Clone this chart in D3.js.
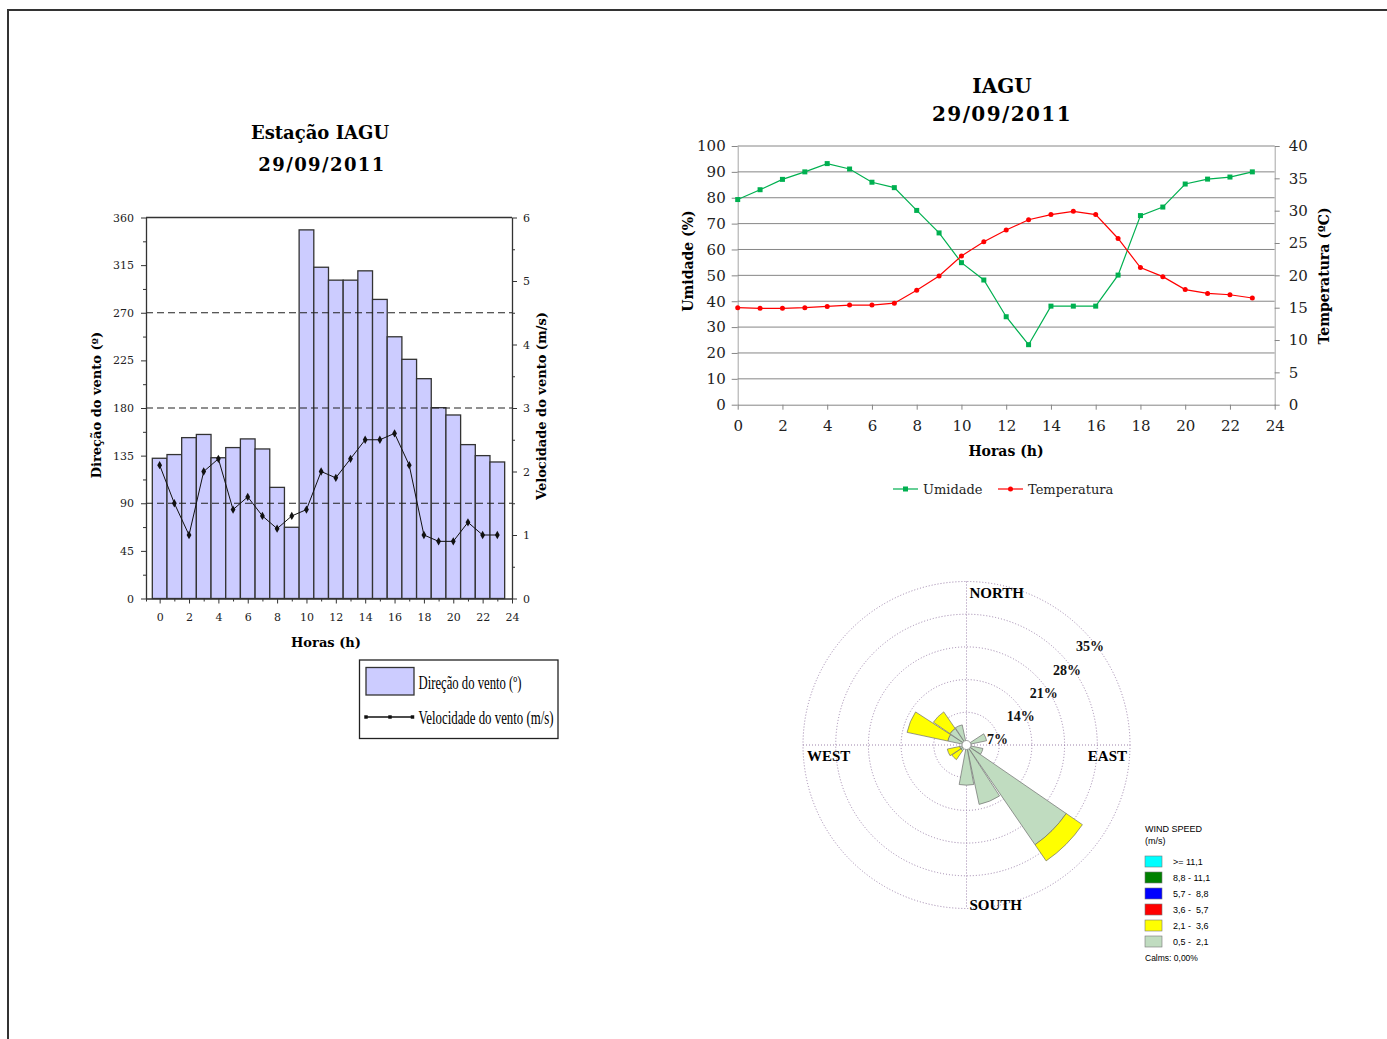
<!DOCTYPE html>
<html>
<head>
<meta charset="utf-8">
<script src="https://cdn.jsdelivr.net/npm/d3@7"></script>
<style>
  body { margin: 0; background: #fff; }
  svg { display: block; }
</style>
</head>
<body>
<svg class="page" width="1387" height="1039"></svg>
<script>
// ---- data ----
let hours = d3.range(0, 24);
let windDir = [132.5, 136, 152, 155, 133, 142.6, 150.8, 141.3, 105, 67.3, 348.3, 313,
               300.8, 300.8, 309.6, 282.6, 247.3, 226, 207.7, 180.3, 173.4, 145.4, 135, 129];
let windSpeed = [2.1, 1.5, 1.0, 2.0, 2.2, 1.4, 1.6, 1.3, 1.1, 1.3, 1.4, 2.0,
                 1.9, 2.2, 2.5, 2.5, 2.6, 2.1, 1.0, 0.9, 0.9, 1.2, 1.0, 1.0];
let humidity = [79.3, 83.1, 87.1, 90, 93.2, 91.1, 86, 83.9, 75.1, 66.4, 54.9, 48.2,
                34, 23.2, 38.1, 38.1, 38.1, 50.1, 73.1, 76.4, 85.3, 87.2, 88, 90];
let temperature = [15.0, 14.9, 14.9, 15.0, 15.2, 15.4, 15.4, 15.7, 17.7, 19.9, 23.0, 25.2,
                   27.0, 28.6, 29.4, 29.9, 29.4, 25.7, 21.2, 19.8, 17.8, 17.2, 17.0, 16.5];

let dirTicks = d3.range(0, 361, 45);
let speedTicks = d3.range(0, 7, 1);
let hourTicks = d3.range(0, 25, 2);
let humTicks = d3.range(0, 101, 10);
let tempTicks = d3.range(0, 41, 5);

// wind rose, % of time per sector (16 sectors, N clockwise)
let roseDirs = ["N", "NNE", "NE", "ENE", "E", "ESE", "SE", "SSE", "S", "SSW", "SW", "WSW", "W", "WNW", "NW", "NNW"];
let roseLow = [0, 0, 0, 4.4, 0, 3.6, 25.9, 13.0, 8.6, 0, 1.5, 1.5, 0, 4.1, 4.3, 4.4];   // 0,5 - 2,1
let roseMid = [0, 0, 0, 0, 0, 0, 4.2, 0, 0, 0, 2.3, 2.7, 0, 8.9, 4.3, 0];            // 2,1 - 3,6
let roseRings = [7, 14, 21, 28, 35];
let speedClasses = [">= 11,1", "8,8 - 11,1", "5,7 -  8,8", "3,6 -  5,7", "2,1 -  3,6", "0,5 -  2,1"];

let svg = d3.select("svg.page");

// page frame
svg.append("path").attr("d", "M8,1039V10H1387")
  .attr("fill", "none").attr("stroke", "#333").attr("stroke-width", 2);

// =================== left: wind direction / speed ===================
let serif = "'DejaVu Serif', serif";
let barX = d3.scaleLinear().domain([-0.93, 24]).range([146, 512]);
let dirY = d3.scaleLinear().domain([0, 360]).range([598.5, 217.5]);
let spdY = d3.scaleLinear().domain([0, 6]).range([598.5, 217.5]);

let left = svg.append("g").attr("id", "windplot");

left.append("text").attr("x", 320).attr("y", 139).attr("text-anchor", "middle")
  .style("font", "bold 18px " + serif).text("Estação IAGU");
left.append("text").attr("x", 322).attr("y", 171).attr("text-anchor", "middle")
  .style("font", "bold 18px " + serif).style("letter-spacing", "1.4px").text("29/09/2011");

// bars
left.selectAll("rect.bar").data(hours).join("rect").attr("class", "bar")
  .attr("x", h => barX(h - 0.5))
  .attr("width", h => barX(h + 0.5) - barX(h - 0.5))
  .attr("y", h => dirY(windDir[h]))
  .attr("height", h => dirY(0) - dirY(windDir[h]))
  .attr("fill", "#ccccff").attr("stroke", "#333").attr("stroke-width", 1.3);

// dashed reference lines
left.selectAll("line.ref").data([90, 180, 270]).join("line").attr("class", "ref")
  .attr("x1", barX.range()[0]).attr("x2", barX.range()[1])
  .attr("y1", d => dirY(d)).attr("y2", d => dirY(d))
  .attr("stroke", "#222").attr("stroke-width", 1.2).attr("stroke-dasharray", "7,4");

// frame top
left.append("line").attr("x1", barX.range()[0]).attr("x2", barX.range()[1])
  .attr("y1", dirY(360)).attr("y2", dirY(360)).attr("stroke", "#333").attr("stroke-width", 1.3);

function styleAxis(g, size) {
  g.select(".domain").attr("stroke", "#333").attr("stroke-width", 1.3);
  g.selectAll(".tick line").attr("stroke", "#333");
  g.selectAll(".tick text").style("font", size + "px " + serif).attr("fill", "#222");
}

let yLeft = left.append("g").attr("transform", translate(barX.range()[0], 0))
  .call(d3.axisLeft(dirY).tickValues(dirTicks).tickSize(5).tickSizeOuter(0).tickPadding(7));
styleAxis(yLeft, 11);
left.append("g").attr("transform", translate(barX.range()[0], 0))
  .call(d3.axisLeft(dirY).tickValues(dirTicks.slice(0, -1).map(d => d + 22.5)).tickSize(3).tickFormat(""))
  .call(g => g.select(".domain").remove()).call(g => g.selectAll("line").attr("stroke", "#333"));

let yRight = left.append("g").attr("transform", translate(barX.range()[1], 0))
  .call(d3.axisRight(spdY).tickValues(speedTicks).tickFormat(d3.format("d")).tickSize(5).tickSizeOuter(0).tickPadding(6));
styleAxis(yRight, 11);
left.append("g").attr("transform", translate(barX.range()[1], 0))
  .call(d3.axisRight(spdY).tickValues(speedTicks.slice(0, -1).map(d => d + 0.5)).tickSize(3).tickFormat(""))
  .call(g => g.select(".domain").remove()).call(g => g.selectAll("line").attr("stroke", "#333"));

let xBottom = left.append("g").attr("transform", translate(0, dirY(0)))
  .call(d3.axisBottom(barX).tickValues(hourTicks).tickSize(5).tickSizeOuter(0).tickPadding(10));
styleAxis(xBottom, 11);
left.append("g").attr("transform", translate(0, dirY(0)))
  .call(d3.axisBottom(barX).tickValues(d3.range(-1, 24, 2).map(d => Math.max(d, -0.93))).tickSize(3).tickFormat(""))
  .call(g => g.select(".domain").remove()).call(g => g.selectAll("line").attr("stroke", "#333"));

// speed line
let speedLine = d3.line().x(h => barX(h)).y(h => spdY(windSpeed[h]));
left.append("path").datum(hours).attr("d", speedLine)
  .attr("fill", "none").attr("stroke", "#111").attr("stroke-width", 1);
left.selectAll("path.dia").data(hours).join("path").attr("class", "dia")
  .attr("d", d3.symbol(d3.symbolDiamond, 20))
  .attr("transform", h => translate(barX(h), spdY(windSpeed[h])))
  .attr("fill", "#111");

// axis titles
left.append("text").attr("transform", translate(101, 405) + " rotate(-90)")
  .attr("text-anchor", "middle").style("font", "bold 13px " + serif).text("Direção do vento (º)");
left.append("text").attr("transform", translate(546, 406) + " rotate(-90)")
  .attr("text-anchor", "middle").style("font", "bold 13px " + serif).text("Velocidade do vento (m/s)");
left.append("text").attr("x", 326).attr("y", 647).attr("text-anchor", "middle")
  .style("font", "bold 13px " + serif).text("Horas (h)");

// legend
let leg = left.append("g").attr("transform", translate(359.5, 660));
leg.append("rect").attr("width", 198.5).attr("height", 78.5)
  .attr("fill", "#fff").attr("stroke", "#222").attr("stroke-width", 1.3);
leg.append("rect").attr("x", 6.5).attr("y", 7.5).attr("width", 48).attr("height", 27.5)
  .attr("fill", "#ccccff").attr("stroke", "#333").attr("stroke-width", 1.3);
leg.append("line").attr("x1", 6.5).attr("x2", 54).attr("y1", 57).attr("y2", 57)
  .attr("stroke", "#111").attr("stroke-width", 1.3);
leg.selectAll("path.dia").data([6.5, 30.5, 53]).join("path").attr("class", "dia")
  .attr("d", d3.symbol(d3.symbolSquare, 12)).attr("transform", d => translate(d, 57)).attr("fill", "#111");
leg.append("text").attr("x", 59).attr("y", 29).attr("textLength", 103).attr("lengthAdjust", "spacingAndGlyphs")
  .style("font", "18px 'Liberation Serif', serif").text("Direção do vento (º)");
leg.append("text").attr("x", 59).attr("y", 64).attr("textLength", 135).attr("lengthAdjust", "spacingAndGlyphs")
  .style("font", "18px 'Liberation Serif', serif").text("Velocidade do vento (m/s)");

// =================== right: humidity / temperature ===================
let lineX = d3.scaleLinear().domain([0, 24]).range([737.7, 1274.7]);
let humY = d3.scaleLinear().domain([0, 100]).range([404.7, 146]);
let tempY = d3.scaleLinear().domain([0, 40]).range([404.7, 146]);
let green = "#00b050", red = "#ff0000";

let right = svg.append("g").attr("id", "lineplot");
right.append("text").attr("x", 1002).attr("y", 93).attr("text-anchor", "middle")
  .style("font", "bold 20px " + serif).text("IAGU");
right.append("text").attr("x", 1002).attr("y", 121).attr("text-anchor", "middle")
  .style("font", "bold 20px " + serif).style("letter-spacing", "1.4px").text("29/09/2011");

// gridlines + left ticks
right.append("g").attr("transform", translate(lineX(0), 0))
  .call(d3.axisLeft(humY).tickValues(humTicks).tickSize(6).tickSizeOuter(0).tickPadding(6))
  .call(g => g.select(".domain").attr("stroke", "#a6a6a6"))
  .call(g => g.selectAll(".tick line").attr("stroke", "#868686"))
  .call(g => g.selectAll(".tick text").style("font", "15px " + serif).attr("fill", "#222"));
right.selectAll("line.grid").data(humTicks.slice(1)).join("line").attr("class", "grid")
  .attr("x1", lineX(0)).attr("x2", lineX(24)).attr("y1", d => humY(d)).attr("y2", d => humY(d))
  .attr("stroke", "#868686").attr("stroke-width", 1);

right.append("g").attr("transform", translate(lineX(24), 0))
  .call(d3.axisRight(tempY).tickValues(tempTicks).tickSize(5).tickSizeOuter(0).tickPadding(9))
  .call(g => g.select(".domain").attr("stroke", "#a6a6a6"))
  .call(g => g.selectAll(".tick line").attr("stroke", "#868686"))
  .call(g => g.selectAll(".tick text").style("font", "15px " + serif).attr("fill", "#222"));

right.append("g").attr("transform", translate(0, humY(0)))
  .call(d3.axisBottom(lineX).tickValues(hourTicks).tickSize(5).tickSizeOuter(0).tickPadding(11))
  .call(g => g.select(".domain").attr("stroke", "#868686"))
  .call(g => g.selectAll(".tick line").attr("stroke", "#868686"))
  .call(g => g.selectAll(".tick text").style("font", "15px " + serif).attr("fill", "#222"));

let humLine = d3.line().x(h => lineX(h)).y(h => humY(humidity[h]));
let tempLine = d3.line().x(h => lineX(h)).y(h => tempY(temperature[h]));
right.append("path").datum(hours).attr("d", humLine)
  .attr("fill", "none").attr("stroke", green).attr("stroke-width", 1.2);
right.append("path").datum(hours).attr("d", tempLine)
  .attr("fill", "none").attr("stroke", red).attr("stroke-width", 1.2);
right.selectAll("rect.hum").data(hours).join("rect").attr("class", "hum")
  .attr("x", h => lineX(h) - 2.5).attr("y", h => humY(humidity[h]) - 2.5)
  .attr("width", 5).attr("height", 5).attr("fill", green);
right.selectAll("circle.temp").data(hours).join("circle").attr("class", "temp")
  .attr("cx", h => lineX(h)).attr("cy", h => tempY(temperature[h])).attr("r", 2.5).attr("fill", red);

right.append("text").attr("transform", translate(693, 261) + " rotate(-90)")
  .attr("text-anchor", "middle").style("font", "bold 14px " + serif).text("Umidade (%)");
right.append("text").attr("transform", translate(1329, 276) + " rotate(-90)")
  .attr("text-anchor", "middle").style("font", "bold 14px " + serif).text("Temperatura (ºC)");
right.append("text").attr("x", 1006).attr("y", 456).attr("text-anchor", "middle")
  .style("font", "bold 14px " + serif).text("Horas (h)");

// line legend
let lineLeg = right.append("g").attr("transform", translate(893, 489));
[["Umidade", green, "sq"], ["Temperatura", red, "ci"]].forEach(([name, col, mk], i) => {
  let g = lineLeg.append("g").attr("transform", translate(i * 105, 0));
  g.append("line").attr("x1", 0).attr("x2", 25).attr("stroke", col).attr("stroke-width", 1.2);
  if (mk === "sq") g.append("rect").attr("x", 10).attr("y", -2.5).attr("width", 5).attr("height", 5).attr("fill", col);
  else g.append("circle").attr("cx", 12.5).attr("r", 2.5).attr("fill", col);
  g.append("text").attr("x", 30).attr("y", 5).style("font", "13px " + serif).attr("fill", "#222").text(name);
});

// =================== wind rose ===================
let roseR = d3.scaleLinear().domain([0, 35]).range([0, 163.5]);
let rose = svg.append("g").attr("id", "rose").attr("transform", translate(966.5, 745));
let ringCol = "#9c82aa";
rose.selectAll("circle.ring").data(roseRings).join("circle").attr("class", "ring")
  .attr("r", d => roseR(d)).attr("fill", "none")
  .attr("stroke", ringCol).attr("stroke-width", 1).attr("stroke-dasharray", "1,2");
rose.selectAll("line.axis").data([0, 90]).join("line").attr("class", "axis")
  .attr("x1", d => d ? -roseR(35) : 0).attr("x2", d => d ? roseR(35) : 0)
  .attr("y1", d => d ? 0 : -roseR(35)).attr("y2", d => d ? 0 : roseR(35))
  .attr("stroke", ringCol).attr("stroke-width", 1).attr("stroke-dasharray", "1,2");

let half = 10.5 * Math.PI / 180;
let arc = d3.arc();
let petals = roseDirs.map((d, i) => ({ dir: d, a: i * 22.5 * Math.PI / 180, low: roseLow[i], mid: roseMid[i] }));
rose.selectAll("path.low").data(petals.filter(p => p.low > 0)).join("path").attr("class", "low")
  .attr("d", p => arc({ innerRadius: 0, outerRadius: roseR(p.low), startAngle: p.a - half, endAngle: p.a + half }))
  .attr("fill", "#c0dcc0").attr("stroke", "#6f6f6f").attr("stroke-width", 0.7);
rose.selectAll("path.mid").data(petals.filter(p => p.mid > 0)).join("path").attr("class", "mid")
  .attr("d", p => arc({ innerRadius: roseR(p.low), outerRadius: roseR(p.low + p.mid), startAngle: p.a - half, endAngle: p.a + half }))
  .attr("fill", "#ffff00").attr("stroke", "#6f6f6f").attr("stroke-width", 0.7);
rose.append("circle").attr("r", 4.5).attr("fill", "#fff").attr("stroke", "#888").attr("stroke-width", 0.8);

let rFont = "bold 14px 'Liberation Serif', serif";
rose.selectAll("text.pct").data(roseRings).join("text").attr("class", "pct")
  .attr("x", d => roseR(d) * Math.SQRT1_2 + 8).attr("y", d => -roseR(d) * Math.SQRT1_2 + 22)
  .attr("text-anchor", "middle").style("font", rFont).attr("fill", "#111").text(d => d + "%");
let cFont = "bold 15px 'Liberation Serif', serif";
rose.append("text").attr("x", 3).attr("y", -roseR(35) + 16).style("font", cFont).text("NORTH");
rose.append("text").attr("x", 3).attr("y", roseR(35) + 1).style("font", cFont).text("SOUTH");
rose.append("text").attr("x", -roseR(35) + 4).attr("y", 16).style("font", cFont).text("WEST");
rose.append("text").attr("x", roseR(35) - 3).attr("y", 16).attr("text-anchor", "end").style("font", cFont).text("EAST");

// wind speed legend
let speedColor = d3.scaleOrdinal().domain(speedClasses)
  .range(["#00ffff", "#008000", "#0000ff", "#ff0000", "#ffff00", "#c0dcc0"]);
let sLeg = svg.append("g").attr("transform", translate(1145, 820));
let sFont = "9px 'Liberation Sans', Arial, sans-serif";
sLeg.append("text").attr("y", 12).style("font", sFont).text("WIND SPEED");
sLeg.append("text").attr("y", 24).style("font", sFont).text("(m/s)");
let sRow = sLeg.selectAll("g.row").data(speedClasses).join("g").attr("class", "row")
  .attr("transform", (d, i) => translate(0, 36 + i * 16));
sRow.append("rect").attr("width", 17).attr("height", 11)
  .attr("fill", d => speedColor(d)).attr("stroke", "#777").attr("stroke-width", 0.6);
sRow.append("text").attr("x", 28).attr("y", 9).style("font", sFont).style("white-space", "pre")
  .attr("xml:space", "preserve").text(d => d);
sLeg.append("text").attr("y", 141).style("font", "8.5px 'Liberation Sans', Arial, sans-serif").text("Calms: 0,00%");

function translate(x, y) {
  return 'translate(' + x + ',' + y + ')';
}
</script>
</body>
</html>
